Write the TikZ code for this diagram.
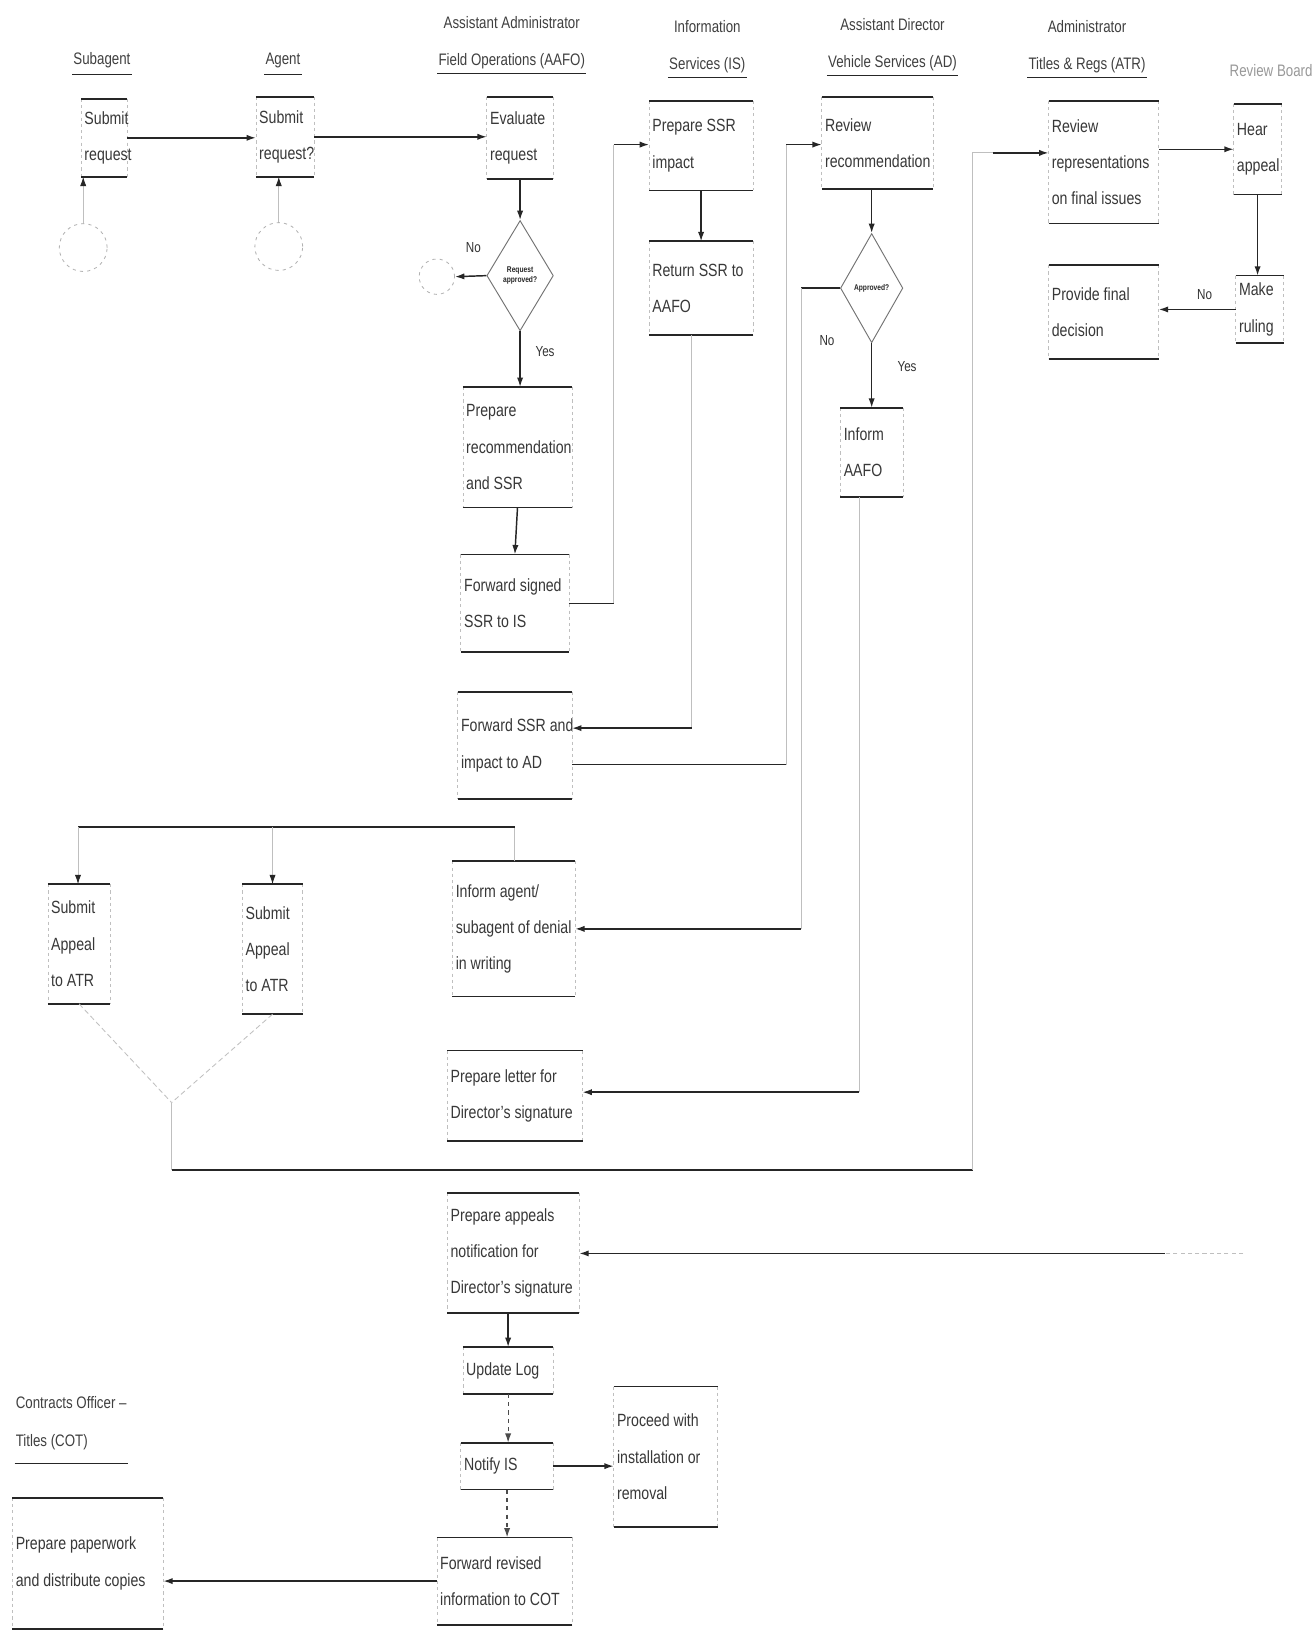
\documentclass[tikz,border=0pt]{standalone}
\usepackage{fontspec}
\setmainfont{Liberation Sans}[FakeStretch=0.8]
\usetikzlibrary{shapes.geometric,arrows.meta}

\tikzset{
  rule/.style={draw=black!85, line width=1.6pt},
  side/.style={draw=black!25, line width=0.6pt, dash pattern=on 3pt off 3pt},
  faint/.style={draw=black!25, line width=0.8pt},
  flow/.style={draw=black!85, line width=1.4pt},
  dashflow/.style={draw=black!70, line width=1.2pt, dash pattern=on 4pt off 4pt},
  tip/.style={-{Latex[length=9pt,width=6pt]}},
  tipd/.style={-{Latex[length=9pt,width=6pt,color=black!85]}},
  lbl/.style={font=\fontsize{14}{14}\selectfont, text=black!80},
  hdr/.style={font=\fontsize{16}{36}\selectfont, text=black!75, align=center, inner sep=1pt},
  frame/.style={inner sep=0pt, outer sep=0pt},
  txt/.style={font=\fontsize{17}{35}\selectfont, text=black!78, align=left,
              inner xsep=2pt, inner ysep=0pt},
  decide/.style={diamond, draw=black!55, line width=0.9pt, inner sep=0pt, align=center,
                 font=\bfseries\fontsize{8}{9}\selectfont, text=black!85},
  conn/.style={circle, draw=black!30, line width=0.8pt, dash pattern=on 3pt off 4pt, inner sep=0pt},
}

% process box: name, left, right, top, bottom, text
\newcommand\procbox[6]{%
  \pgfmathsetmacro\pbW{#3-#2}\pgfmathsetmacro\pbH{#5-#4}%
  \node[frame, minimum width=\pbW pt, minimum height=\pbH pt]
    (#1) at ({(#2+#3)/2},{(#4+#5)/2}) {};
  \node[txt, anchor=west] (#1-t) at ([xshift=1pt]#1.west) {#6};
  \draw[side] (#1.north west) -- (#1.south west) (#1.north east) -- (#1.south east);
  \draw[rule] (#1.north west) -- (#1.north east) (#1.south west) -- (#1.south east);
}

\begin{document}
\begin{tikzpicture}[x=1pt,y=-1pt]
\useasboundingbox[fill=white] (0,0) rectangle (1262,1568);

% column headings
\node[hdr] (h1) at (98,58) {Subagent};
\draw[rule, line width=1.2pt] ([yshift=-5pt]h1.south west) -- ([yshift=-5pt]h1.south east);
\node[hdr] (h2) at (272,58) {Agent};
\draw[rule, line width=1.2pt] ([yshift=-5pt]h2.south west) -- ([yshift=-5pt]h2.south east);
\node[hdr] (h3) at (492,41) {Assistant Administrator\\Field Operations (AAFO)};
\draw[rule, line width=1.2pt] ([yshift=-3pt]h3.south west) -- ([yshift=-3pt]h3.south east);
\node[hdr] (h4) at (680,45) {Information\\Services (IS)};
\draw[rule, line width=1.2pt] ([yshift=-3pt]h4.south west) -- ([yshift=-3pt]h4.south east);
\node[hdr] (h5) at (858,43) {Assistant Director\\Vehicle Services (AD)};
\draw[rule, line width=1.2pt] ([yshift=-3pt]h5.south west) -- ([yshift=-3pt]h5.south east);
\node[hdr] (h6) at (1045,45) {Administrator\\Titles \& Regs (ATR)};
\draw[rule, line width=1.2pt] ([yshift=-3pt]h6.south west) -- ([yshift=-3pt]h6.south east);
\node[hdr, text=black!40] (h7) at (1222,68) {Review Board};
\node[hdr, align=left, anchor=west] (h8) at (14,1368) {Contracts Officer --\\Titles (COT)};
\draw[rule, line width=1.2pt] ([yshift=-12pt]h8.south west) -- ([yshift=-12pt]h8.south east);

% process steps
\procbox{sub}{78}{122}{95}{170}{Submit\\request}
\procbox{agt}{246}{302}{93}{170}{Submit\\request?}
\procbox{evl}{468}{532}{93}{172}{Evaluate\\request}
\procbox{ssr}{624}{724}{97}{183}{Prepare SSR\\impact}
\procbox{ret}{624}{724}{232}{322}{Return SSR to\\AAFO}
\procbox{rev}{790}{897}{93}{182}{Review\\recommendation}
\procbox{atra}{1008}{1114}{97}{215}{Review\\representations\\on final issues}
\procbox{atrb}{1008}{1114}{255}{345}{Provide final\\decision}
\procbox{rca}{1186}{1232}{100}{187}{Hear\\appeal}
\procbox{rcb}{1188}{1234}{265}{330}{Make\\ruling}
\procbox{prep}{445}{550}{372}{488}{Prepare\\recommendation\\and SSR}
\procbox{fsig}{443}{547}{533}{627}{Forward signed\\SSR to IS}
\procbox{fimp}{440}{550}{665}{768}{Forward SSR and\\impact to AD}
\procbox{inaf}{808}{868}{392}{478}{Inform\\AAFO}
\procbox{deny}{435}{553}{828}{958}{Inform agent/\\subagent of denial\\in writing}
\procbox{apa}{46}{106}{850}{965}{Submit\\Appeal\\to ATR}
\procbox{apb}{233}{291}{850}{975}{Submit\\Appeal\\to ATR}
\procbox{let}{430}{560}{1010}{1097}{Prepare letter for\\Director's signature}
\procbox{pan}{430}{557}{1147}{1262}{Prepare appeals\\notification for\\Director's signature}
\procbox{log}{445}{532}{1295}{1340}{Update Log}
\procbox{nis}{443}{532}{1387}{1432}{Notify IS}
\procbox{proc}{590}{690}{1333}{1468}{Proceed with\\installation or\\removal}
\procbox{frw}{420}{550}{1478}{1562}{Forward revised\\information to COT}
\procbox{cot}{12}{157}{1440}{1566}{Prepare paperwork\\and distribute copies}

% decisions and connectors
\node[decide, minimum width=64pt, minimum height=106pt] (d1) at (500,265) {Request\\approved?};
\node[decide, minimum width=60pt, minimum height=105pt] (d2) at (838,277) {Approved?};
\node[conn, minimum size=46pt] (ca) at (80,238) {};
\node[conn, minimum size=46pt] (cb) at (268,237) {};
\node[conn, minimum size=34pt] (cc) at (420,266) {};

% submission
\draw[flow,tip] (sub.east) -- (sub.east -| agt.west);
\draw[flow,tip] (agt.east) -- (agt.east -| evl.west);
\draw[faint,tipd] (ca.north) -- (ca.north |- sub.south);
\draw[faint,tipd] (cb.north) -- (cb.north |- agt.south);

% AAFO evaluation
\draw[flow,tip] (evl.south) -- (d1.north);
\draw[flow,tip] (d1.west) -- (cc.east);
\node[lbl] (n1) at (455,238) {No};
\node[lbl] (y1) at (524,338) {Yes};
\draw[flow,tip] (d1.south) -- (d1.south |- prep.north);
\draw[flow,tip] (prep.south) -- (fsig.north);

% to IS and back
\coordinate (k1) at (590,580);
\coordinate (k2) at (590,139);
\draw[flow] (fsig.east) -- (fsig.east -| k1);
\draw[faint] (k1) -- (k2);
\draw[flow,tip] (k2) -- (k2 -| ssr.west);
\draw[flow,tip] (ssr.south) -- (ret.north);
\coordinate (k3) at (665,700);
\draw[faint] (ret.south -| k3) -- (k3);
\draw[flow,tip] (k3) -- (k3 -| fimp.east);

% to AD
\coordinate (k4) at (756,735);
\coordinate (k5) at (756,139);
\draw[flow] (fimp.east |- k4) -- (k4);
\draw[faint] (k4) -- (k5);
\draw[flow,tip] (k5) -- (k5 -| rev.west);
\draw[flow,tip] (rev.south -| d2.north) -- (d2.north);
\coordinate (k6) at (770,277);
\coordinate (k7) at (770,893);
\draw[flow] (d2.west) -- (k6);
\draw[faint] (k6) -- (k7);
\draw[flow,tip] (k7) -- (k7 -| deny.east);
\node[lbl] (n2) at (795,327) {No};
\node[lbl] (y2) at (872,352) {Yes};
\draw[flow,tip] (d2.south) -- (d2.south |- inaf.north);
\coordinate (k8) at (826,1050);
\draw[faint] (inaf.south -| k8) -- (k8);
\draw[flow,tip] (k8) -- (k8 -| let.east);

% denial and appeal
\coordinate (k9) at (495,795);
\coordinate (k10) at (75,795);
\coordinate (k11) at (262,795);
\draw[faint] (deny.north -| k9) -- (k9);
\draw[flow] (k9) -- (k10);
\draw[faint,tipd] (k10) -- (k10 |- apa.north);
\draw[faint,tipd] (k11) -- (k11 |- apb.north);
\coordinate (k12) at (165,1060);
\coordinate (k13) at (165,1125);
\coordinate (k14) at (935,1125);
\coordinate (k15) at (935,147);
\coordinate (k16) at (955,147);
\draw[faint, dash pattern=on 5pt off 3pt] (apa.south) -- (k12);
\draw[faint, dash pattern=on 5pt off 3pt] (apb.south) -- (k12);
\draw[faint] (k12) -- (k13);
\draw[flow] (k13) -- (k14);
\draw[faint] (k14) -- (k15) -- (k16);
\draw[flow,tip] (k16) -- (k16 -| atra.west);

% ATR and review
\draw[flow,tip] (atra.east |- rca.west) -- (rca.west);
\draw[flow,tip] (rca.south) -- (rca.south |- rcb.north);
\draw[flow,tip] (rcb.west) -- (rcb.west -| atrb.east);
\node[lbl] (n3) at (1158,283) {No};

% appeal notification and closing steps
\coordinate (k17) at (1195,1205);
\coordinate (k18) at (1120,1205);
\draw[faint, dash pattern=on 4pt off 3pt] (k17) -- (k18);
\draw[flow,tip] (k18) -- (k18 -| pan.east);
\draw[flow,tip] (log.north |- pan.south) -- (log.north);
\draw[dashflow,tip] (log.south) -- (log.south |- nis.north);
\draw[flow,tip] (nis.east) -- (nis.east -| proc.west);
\draw[dashflow,tip] (nis.south) -- (nis.south |- frw.north);
\draw[flow,tip] (frw.west) -- (frw.west -| cot.east);
\end{tikzpicture}
\end{document}
